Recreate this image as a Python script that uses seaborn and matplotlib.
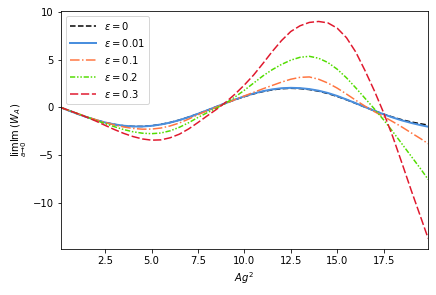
import matplotlib
matplotlib.use("Agg")
import matplotlib.pyplot as plt
import seaborn as sns

# Ag^2 sample points
ag2 = [0.1, 0.5, 1.0, 1.5, 2.0, 2.5, 3.0, 3.5, 4.0, 4.5, 5.0,
       5.5, 6.0, 6.5, 7.0, 7.5, 8.0, 8.5, 9.0, 9.5, 10.0,
       10.5, 11.0, 11.5, 12.0, 12.5, 13.0, 13.5, 14.0, 14.5, 15.0,
       15.5, 16.0, 16.5, 17.0, 17.5, 18.0, 18.5, 19.0, 19.5, 19.9]

# lim_{a->0} Im(W_A)
eps_0 = [0.0, -0.30, -0.67, -1.01, -1.32, -1.58, -1.78, -1.92, -1.99, -1.99, -1.92,
         -1.78, -1.58, -1.32, -1.01, -0.67, -0.30, 0.08, 0.45, 0.81, 1.13,
         1.42, 1.66, 1.84, 1.96, 2.00, 1.97, 1.87, 1.70, 1.45, 1.15,
         0.80, 0.42, 0.03, -0.35, -0.70, -1.02, -1.30, -1.53, -1.72, -1.85]
eps_001 = [0.0, -0.30, -0.67, -1.01, -1.32, -1.58, -1.78, -1.92, -1.99, -2.00, -1.93,
           -1.79, -1.59, -1.33, -1.02, -0.67, -0.30, 0.08, 0.46, 0.83, 1.16,
           1.46, 1.70, 1.89, 2.01, 2.05, 2.02, 1.92, 1.75, 1.51, 1.20,
           0.83, 0.44, 0.04, -0.35, -0.72, -1.06, -1.37, -1.63, -1.86, -2.02]
eps_01 = [0.0, -0.29, -0.64, -0.97, -1.29, -1.58, -1.84, -2.05, -2.20, -2.28, -2.27,
          -2.16, -1.94, -1.63, -1.22, -0.76, -0.35, 0.03, 0.43, 0.82, 1.20,
          1.58, 1.95, 2.30, 2.65, 2.95, 3.15, 3.19, 2.95, 2.55, 2.02,
          1.40, 0.75, 0.13, -0.44, -0.96, -1.50, -2.07, -2.68, -3.28, -3.80]
eps_02 = [0.0, -0.29, -0.64, -1.00, -1.35, -1.70, -2.02, -2.32, -2.55, -2.70, -2.75,
          -2.68, -2.45, -2.08, -1.60, -1.05, -0.55, -0.07, 0.45, 1.10, 1.80,
          2.55, 3.30, 3.95, 4.50, 4.95, 5.25, 5.35, 5.15, 4.70, 4.00,
          3.10, 2.05, 0.95, -0.15, -1.30, -2.55, -3.85, -5.15, -6.45, -7.55]
eps_03 = [0.0, -0.28, -0.64, -1.02, -1.43, -1.88, -2.32, -2.72, -3.05, -3.30, -3.43,
          -3.40, -3.18, -2.80, -2.25, -1.58, -0.88, -0.20, 0.55, 1.40, 2.35,
          3.40, 4.60, 5.85, 7.00, 7.95, 8.55, 8.90, 9.00, 8.85, 8.30,
          7.30, 5.80, 3.85, 1.75, -0.55, -3.10, -5.90, -8.75, -11.50, -13.72]

fig = plt.figure(figsize=(436 / 72, 295 / 72), dpi=72)
ax = fig.add_axes([0.139, 0.155, 0.843, 0.809])

curves = [
    (eps_0, r"$\epsilon = 0$", "black", "--", 1.5),
    (eps_001, r"$\epsilon = 0.01$", "#4a8fde", "-", 2.0),
    (eps_01, r"$\epsilon = 0.1$", "#ff7540", "-.", 1.5),
    (eps_02, r"$\epsilon = 0.2$", "#52dc00", (0, (3.5, 1.2, 1, 1.2, 1, 1.2)), 1.5),
    (eps_03, r"$\epsilon = 0.3$", "#e0182d", (0, (5.5, 1.8)), 1.5),
]
for vals, lab, col, ls, lw in curves:
    sns.lineplot(x=ag2, y=vals, ax=ax, color=col, linestyle=ls, linewidth=lw, label=lab)

ax.set_xlim(ag2[0], ag2[-1])
ax.set_xlabel(r"$Ag^2$")
ax.set_ylabel(r"$\lim_{a\to 0}\mathrm{Im}\,(W_A)$")
ax.legend(loc="upper left", handlelength=2.6)

fig.savefig("out.png", dpi=72)
